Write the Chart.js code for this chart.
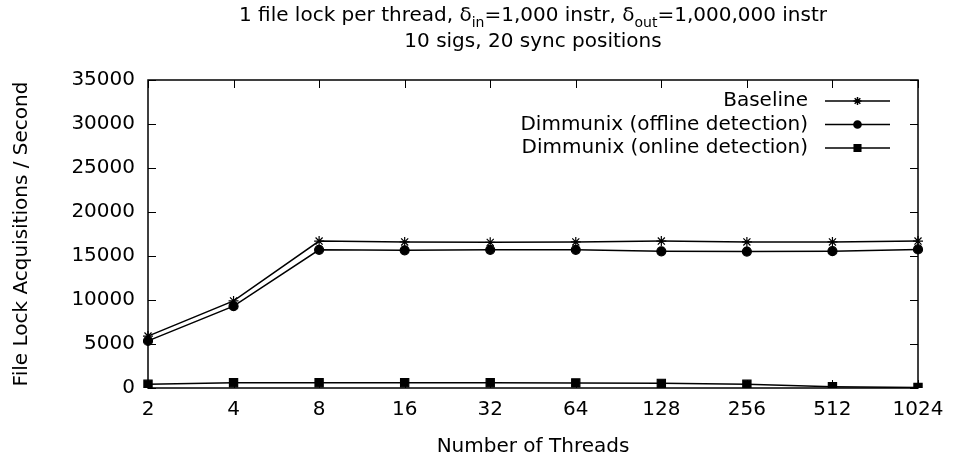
<!DOCTYPE html>
<html>
<head>
<meta charset="utf-8">
<script src="https://cdn.jsdelivr.net/npm/chart.js@4/dist/chart.umd.min.js"></script>
<style>
  body { margin: 0; background: #fff; }
  canvas { display: block; }
</style>
</head>
<body>
<canvas id="lockChart" width="954" height="463"></canvas>
<script>
// --- datos ---
const threads = ['2', '4', '8', '16', '32', '64', '128', '256', '512', '1024'];
const baseline = [5900, 9900, 16700, 16600, 16550, 16600, 16700, 16600, 16600, 16700];
const offline = [5350, 9300, 15700, 15650, 15700, 15700, 15530, 15500, 15550, 15750];
const online = [420, 600, 600, 600, 600, 580, 530, 420, 150, 50];
const yTicks = [0, 5000, 10000, 15000, 20000, 25000, 30000, 35000];

const FONT = '"DejaVu Sans", "Liberation Sans", sans-serif';
const FS = 20;

// titulo con subindices (canvas no tiene <sub>)
const titlePlugin = {
    id: 'gnuTitle',
    afterDraw(chart) {
        const ctx = chart.ctx;
        const area = chart.chartArea;
        const cx = (area.left + area.right) / 2;
        const parts = [
            ['1 file lock per thread, δ', 0], ['in', 1], ['=1,000 instr, δ', 0], ['out', 1], ['=1,000,000 instr', 0]
        ];
        ctx.save();
        ctx.fillStyle = '#000';
        ctx.textBaseline = 'alphabetic';
        let total = 0;
        parts.forEach(p => {
            ctx.font = (p[1] ? '14px ' : FS + 'px ') + FONT;
            total += ctx.measureText(p[0]).width;
        });
        let x = cx - total / 2;
        parts.forEach(p => {
            ctx.font = (p[1] ? '14px ' : FS + 'px ') + FONT;
            ctx.fillText(p[0], x, p[1] ? 27 : 21);
            x += ctx.measureText(p[0]).width;
        });
        ctx.font = FS + 'px ' + FONT;
        ctx.textAlign = 'center';
        ctx.fillText('10 sigs, 20 sync positions', cx, 47);
        ctx.restore();
    }
};

// marco y marcas hacia dentro, estilo gnuplot
const framePlugin = {
    id: 'gnuFrame',
    beforeDatasetsDraw(chart) {
        const ctx = chart.ctx;
        const a = chart.chartArea;
        const xs = chart.scales.x, ys = chart.scales.y;
        const len = 8;
        ctx.save();
        ctx.strokeStyle = '#000';
        ctx.lineWidth = 1;
        ctx.beginPath();
        xs.ticks.forEach((t, i) => {
            const px = Math.round(xs.getPixelForTick(i)) + 0.5;
            ctx.moveTo(px, a.bottom); ctx.lineTo(px, a.bottom - len);
            ctx.moveTo(px, a.top); ctx.lineTo(px, a.top + len);
        });
        ys.ticks.forEach((t, i) => {
            const py = Math.round(ys.getPixelForTick(i)) + 0.5;
            ctx.moveTo(a.left, py); ctx.lineTo(a.left + len, py);
            ctx.moveTo(a.right, py); ctx.lineTo(a.right - len, py);
        });
        ctx.stroke();
        ctx.lineWidth = 1.5;
        ctx.strokeRect(Math.round(a.left), Math.round(a.top),
            Math.round(a.right - a.left), Math.round(a.bottom - a.top));
        ctx.restore();
    }
};

// leyenda dentro del grafico, texto a la izquierda de la muestra
const keyPlugin = {
    id: 'gnuKey',
    afterDatasetsDraw(chart) {
        const ctx = chart.ctx;
        const a = chart.chartArea;
        const textRight = a.right - 110;
        const lineL = a.right - 93, lineR = a.right - 28;
        ctx.save();
        ctx.font = FS + 'px ' + FONT;
        ctx.textAlign = 'right';
        ctx.textBaseline = 'middle';
        chart.data.datasets.forEach((ds, i) => {
            const y = a.top + 21 + i * 23.5;
            ctx.fillStyle = '#000';
            ctx.fillText(ds.label, textRight, y);
            ctx.strokeStyle = '#000';
            ctx.lineWidth = 1.5;
            ctx.beginPath();
            ctx.moveTo(lineL, y); ctx.lineTo(lineR, y);
            ctx.stroke();
            Chart.helpers.drawPoint(ctx, {
                pointStyle: ds.pointStyle, radius: ds.pointRadius * 0.8, rotation: 0, borderWidth: 1.2
            }, (lineL + lineR) / 2, y);
            ctx.fill();
        });
        ctx.restore();
    }
};

function series(label, data, style, radius) {
    return {
        label: label,
        data: data,
        borderColor: '#000',
        backgroundColor: '#000',
        borderWidth: 1.5,
        pointStyle: style,
        pointRadius: radius,
        pointBorderColor: '#000',
        pointBackgroundColor: '#000',
        pointBorderWidth: 1.2,
        tension: 0,
        fill: false
    };
}

new Chart(document.getElementById('lockChart'), {
    type: 'line',
    data: {
        labels: threads,
        datasets: [
            series('Baseline', baseline, 'star', 5),
            series('Dimmunix (offline detection)', offline, 'circle', 4.5),
            series('Dimmunix (online detection)', online, 'rect', 5.8)
        ]
    },
    options: {
        responsive: false,
        animation: false,
        layout: { padding: { top: 80, right: 36, left: 0, bottom: 0 } },
        plugins: {
            legend: { display: false },
            title: { display: false },
            tooltip: { enabled: false }
        },
        scales: {
            x: {
                offset: false,
                grid: { display: false, drawTicks: false },
                border: { display: false },
                ticks: { color: '#000', font: { family: FONT, size: FS }, padding: 10, maxRotation: 0 },
                title: { display: true, text: 'Number of Threads', color: '#000', font: { family: FONT, size: FS }, padding: { top: 0, bottom: 4 } },
                afterFit(s) { s.height = 75; }
            },
            y: {
                min: 0,
                max: 35000,
                afterBuildTicks(s) { s.ticks = yTicks.map(v => ({ value: v })); },
                grid: { display: false, drawTicks: false },
                border: { display: false },
                ticks: {
                    color: '#000', font: { family: FONT, size: FS }, padding: 13,
                    callback: v => String(v)
                },
                title: { display: true, text: 'File Lock Acquisitions / Second', color: '#000', font: { family: FONT, size: FS }, padding: { top: 10, bottom: 0 } },
                afterFit(s) { s.width = 148; }
            }
        }
    },
    plugins: [framePlugin, keyPlugin, titlePlugin]
});
</script>
</body>
</html>
